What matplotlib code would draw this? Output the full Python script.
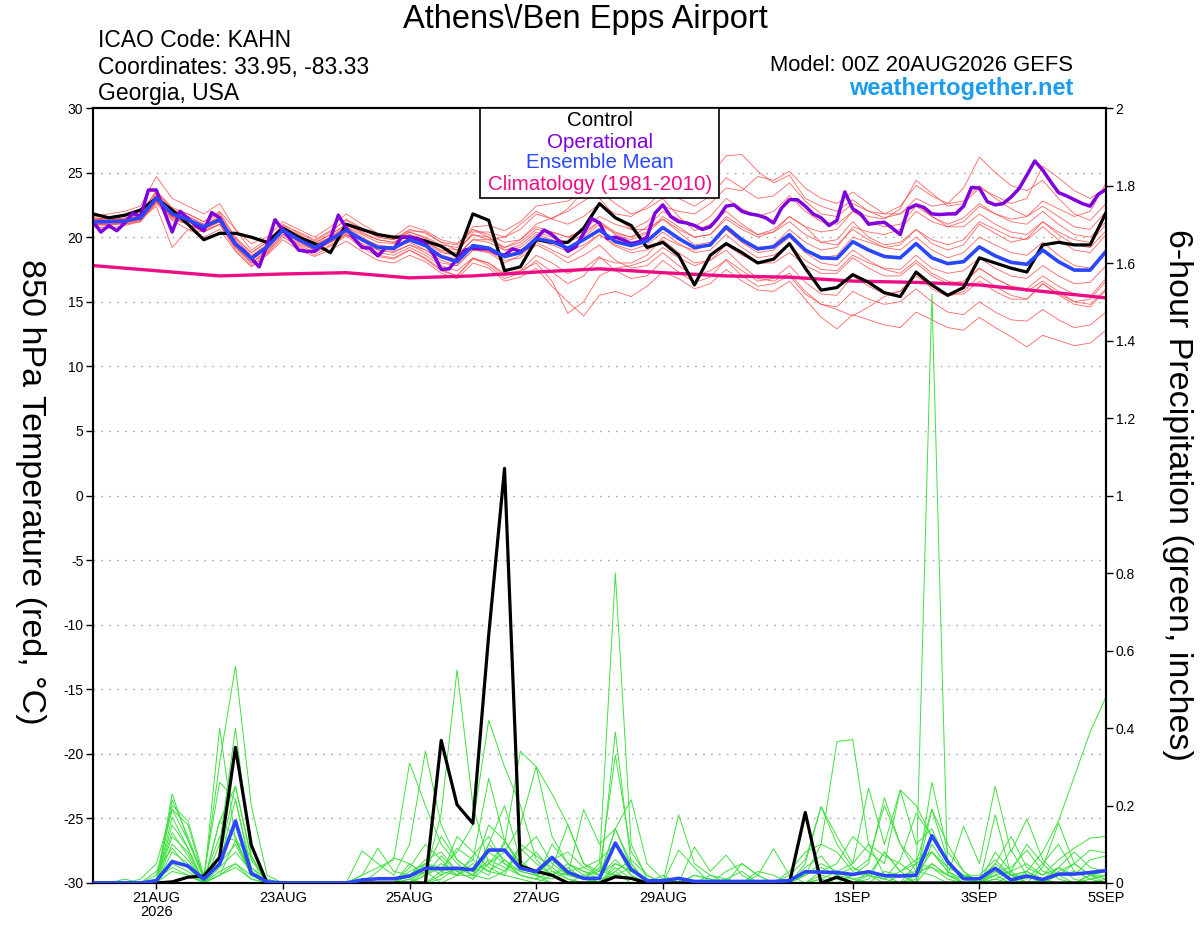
import numpy as np
import pandas as pd
import matplotlib
matplotlib.use("Agg")
import matplotlib.pyplot as plt
from matplotlib.patches import Rectangle

plt.rcParams['font.family'] = ['Liberation Sans', 'DejaVu Sans']

# ---------------- time axes ----------------
times6 = pd.date_range("2026-08-20 00:00", periods=65, freq="6h")
times3 = pd.date_range("2026-08-20 00:00", periods=129, freq="3h")
times24 = pd.date_range("2026-08-20 00:00", periods=17, freq="24h")

tick_dates = pd.to_datetime(["2026-08-21", "2026-08-23", "2026-08-25", "2026-08-27",
                             "2026-08-29", "2026-09-01", "2026-09-03", "2026-09-05"])
tick_labels = ["21AUG\n2026", "23AUG", "25AUG", "27AUG", "29AUG", "1SEP", "3SEP", "5SEP"]
temp_ticks = [-30, -25, -20, -15, -10, -5, 0, 5, 10, 15, 20, 25, 30]
precip_ticks = [0, 0.2, 0.4, 0.6, 0.8, 1.0, 1.2, 1.4, 1.6, 1.8, 2.0]
precip_labels = ["0", "0.2", "0.4", "0.6", "0.8", "1", "1.2", "1.4", "1.6", "1.8", "2"]

# ---------------- 850 hPa temperature (deg C) ----------------
control_t = [21.8, 21.5, 21.7, 22.1, 23.0, 22.1, 21.0, 19.8, 20.3, 20.3, 20.0, 19.6,
             20.7, 20.0, 19.5, 18.8, 21.0, 20.6, 20.2, 20.0, 20.0, 19.7, 19.3, 18.5,
             21.8, 21.3, 17.4, 17.7, 19.8, 19.6, 19.6, 20.7, 22.6, 21.5, 20.9, 19.2,
             19.6, 18.6, 16.3, 18.6, 19.5, 18.8, 18.0, 18.3, 19.5, 17.6, 15.9, 16.1,
             17.1, 16.5, 15.7, 15.4, 17.3, 16.3, 15.5, 16.1, 18.4, 18.0, 17.6, 17.3,
             19.4, 19.6, 19.4, 19.4, 21.9]

mean_t = [21.2, 21.2, 21.25, 21.5, 23.05, 21.8, 21.35, 20.8, 21.35, 19.5, 18.35, 19.25,
          20.55, 19.8, 19.2, 19.8, 20.55, 19.8, 19.2, 19.15, 19.8, 19.35, 18.5, 18.1,
          19.35, 19.15, 18.5, 18.8, 19.9, 19.65, 19.15, 19.8, 20.55, 19.65, 19.35, 19.7,
          20.75, 19.9, 19.2, 19.4, 20.8, 19.8, 19.1, 19.25, 20.2, 19.0, 18.4, 18.35,
          19.65, 19.0, 18.5, 18.4, 19.5, 18.4, 17.95, 18.1, 19.25, 18.55, 18.05, 17.9,
          19.0, 18.1, 17.45, 17.45, 18.9]

operational_t = [21.2, 20.4, 20.9, 20.5, 21.1, 21.85, 21.6, 23.65, 23.65, 22.0,
                 20.4, 22.0, 21.45, 20.9, 20.5, 21.9, 21.5, 20.4, 19.45, 19.0,
                 18.35, 17.7, 19.4, 21.35, 20.55, 19.8, 19.0, 18.9, 18.9, 19.4,
                 19.9, 21.7, 20.7, 19.9, 19.2, 19.15, 18.55, 19.2, 19.1, 20.0,
                 20.0, 19.9, 19.5, 18.7, 17.5, 17.55, 18.3, 19.0, 19.15, 19.1,
                 19.1, 18.75, 18.6, 19.1, 18.9, 19.25, 19.9, 20.55, 20.2, 19.65,
                 18.9, 19.25, 20.3, 21.45, 21.1, 19.9, 20.0, 19.8, 19.5, 19.65,
                 20.0, 21.85, 22.5, 21.6, 21.2, 21.1, 20.9, 20.6, 20.8, 21.5,
                 22.4, 22.5, 22.0, 21.8, 21.7, 21.5, 21.1, 22.25, 22.9, 22.9,
                 22.4, 21.8, 21.5, 20.9, 21.3, 23.5, 22.2, 21.8, 21.0, 21.1,
                 21.15, 20.7, 20.2, 22.2, 22.5, 22.3, 21.8, 21.75, 21.8, 21.8,
                 22.4, 23.85, 23.8, 22.75, 22.5, 22.6, 23.1, 23.75, 24.8, 25.9,
                 25.2, 24.3, 23.45, 23.2, 22.9, 22.6, 22.4, 23.3, 23.7]

climatology_t = [17.8, 17.4, 17.0, 17.15, 17.25, 16.85, 17.0, 17.3, 17.55,
                 17.25, 17.0, 16.9, 16.6, 16.5, 16.3, 15.8, 15.3]

member_a_t = [21.5, 21.4, 21.6, 21.9, 23.5, 22.2, 21.6, 21.0, 21.8, 19.9, 18.8, 19.6,
              20.9, 20.4, 19.8, 20.5, 21.3, 20.6, 20.0, 19.8, 20.6, 20.3, 19.6, 19.4,
              20.8, 20.9, 20.5, 21.2, 22.4, 22.6, 22.8, 23.5, 24.3, 23.6, 23.0, 23.8,
              25.0, 24.6, 24.0, 24.8, 26.3, 26.4, 25.1, 24.2, 24.8, 23.0, 22.4, 22.0,
              22.9, 22.0, 21.5, 21.8, 23.0, 22.4, 22.6, 23.8, 26.2, 25.0, 24.0, 23.6,
              24.4, 23.0, 21.8, 21.3, 22.6]
member_b_t = [20.8, 20.7, 20.9, 21.2, 22.6, 21.3, 20.6, 20.0, 20.6, 18.9, 17.7, 18.6,
              19.8, 19.0, 18.5, 19.0, 19.7, 18.9, 18.2, 18.0, 18.6, 18.1, 17.2, 16.8,
              18.0, 17.6, 16.6, 16.9, 17.6, 16.2, 15.0, 13.9, 15.5, 15.8, 15.4, 16.2,
              17.3, 16.8, 16.0, 16.4, 17.5, 16.6, 15.9, 15.8, 16.6, 15.2, 13.8, 12.9,
              14.0, 13.6, 13.2, 13.0, 14.2, 13.6, 13.0, 12.8, 13.8, 13.0, 12.3, 11.5,
              12.4, 12.0, 11.6, 11.8, 12.8]
member_c_t = [21.3, 21.5, 21.4, 21.7, 23.2, 22.0, 21.8, 21.2, 22.0, 20.6, 19.0, 19.8,
              20.8, 20.2, 19.4, 20.0, 20.9, 20.5, 20.2, 19.9, 20.5, 20.4, 19.6, 19.0,
              20.2, 20.0, 19.2, 19.8, 21.0, 21.5, 22.0, 22.8, 23.6, 22.6, 21.8, 22.2,
              23.0, 21.6, 20.5, 21.0, 22.0, 21.0, 20.2, 20.6, 21.6, 20.8, 19.6, 19.8,
              21.2, 20.0, 19.4, 19.6, 20.6, 19.5, 19.0, 19.4, 21.0, 20.3, 19.6, 19.9,
              21.2, 20.2, 19.4, 19.2, 20.5]
member_d_t = [21.0, 20.9, 21.1, 21.3, 22.8, 21.5, 21.0, 20.4, 21.0, 19.0, 17.8, 18.7,
              20.0, 19.3, 18.6, 19.3, 20.1, 19.2, 18.5, 18.3, 19.0, 18.4, 17.5, 17.0,
              18.3, 18.0, 17.0, 17.4, 18.6, 18.0, 17.2, 17.6, 18.5, 17.4, 16.8, 17.0,
              18.2, 17.3, 16.5, 16.9, 18.3, 17.4, 16.6, 16.8, 17.8, 16.5, 15.6, 15.5,
              17.0, 16.2, 15.6, 15.8, 17.2, 16.0, 15.4, 15.8, 17.0, 16.2, 15.5, 15.2,
              16.4, 15.5, 14.8, 14.6, 15.9]
member_e_t = [21.6, 21.8, 22.0, 22.4, 24.7, 23.0, 22.4, 21.8, 22.6, 20.6, 19.5, 20.0,
              21.2, 20.6, 20.0, 20.8, 21.8, 21.0, 20.3, 20.0, 20.9, 20.5, 19.8, 19.5,
              20.6, 20.0, 19.0, 19.2, 20.2, 19.8, 19.2, 20.0, 21.0, 20.3, 20.0, 20.8,
              22.0, 21.4, 20.8, 21.6, 23.0, 22.2, 21.6, 22.0, 23.2, 22.0, 21.2, 21.0,
              22.0, 21.2, 20.8, 21.0, 22.4, 21.6, 21.0, 21.5, 22.6, 21.8, 21.2, 21.0,
              22.0, 21.0, 20.2, 20.0, 21.2]
member_f_t = [21.1, 21.0, 21.2, 21.4, 23.0, 21.6, 21.0, 20.5, 21.0, 19.2, 18.0, 19.0,
              20.4, 19.7, 19.0, 19.6, 20.4, 19.9, 19.4, 19.2, 19.6, 19.0, 18.2, 17.8,
              19.0, 18.8, 18.0, 18.6, 19.6, 19.0, 18.4, 19.2, 20.2, 19.4, 19.0, 19.4,
              20.4, 19.5, 18.8, 19.0, 20.2, 19.2, 18.4, 18.6, 19.4, 18.2, 17.5, 17.4,
              18.6, 18.0, 17.6, 17.5, 18.6, 17.6, 17.2, 17.4, 18.4, 17.6, 17.0, 16.8,
              17.8, 17.0, 16.4, 16.5, 17.8]
member_g_t = [21.4, 21.3, 21.3, 21.6, 23.2, 21.9, 21.4, 20.9, 21.6, 19.8, 18.6, 19.4,
              20.6, 19.9, 19.3, 19.9, 20.8, 20.2, 19.6, 19.5, 20.2, 19.8, 18.9, 18.6,
              19.8, 19.6, 19.0, 19.4, 20.4, 20.0, 19.6, 20.2, 21.2, 20.2, 19.8, 20.3,
              21.4, 20.6, 20.0, 20.2, 21.4, 20.6, 20.0, 20.4, 21.6, 20.8, 20.4, 20.6,
              22.0, 21.6, 21.4, 22.2, 24.4, 23.4, 22.4, 22.6, 23.8, 23.2, 22.6, 23.0,
              25.5, 24.6, 23.6, 23.0, 23.8]
member_h_t = [20.9, 21.0, 21.0, 21.2, 22.8, 21.6, 21.2, 20.7, 21.2, 19.4, 18.2, 19.1,
              20.4, 19.6, 19.0, 19.6, 20.3, 19.4, 18.6, 18.4, 19.0, 18.3, 17.4, 17.0,
              18.4, 17.8, 16.8, 17.2, 18.2, 17.3, 16.4, 17.0, 18.4, 18.0, 18.0, 18.6,
              20.0, 19.4, 19.0, 19.4, 20.8, 19.9, 19.2, 19.3, 20.0, 18.8, 18.0, 17.8,
              19.0, 18.2, 17.5, 17.2, 18.2, 17.2, 16.6, 16.4, 17.6, 16.8, 16.2, 15.8,
              16.6, 15.8, 15.0, 14.8, 16.0]
member_i_t = [21.2, 21.1, 21.4, 21.6, 23.4, 22.1, 21.6, 21.0, 21.4, 19.6, 18.5, 19.3,
              20.8, 20.0, 19.5, 20.2, 21.0, 20.3, 19.8, 19.6, 20.2, 19.6, 19.0, 18.8,
              20.4, 20.4, 20.0, 20.6, 21.8, 21.4, 21.0, 21.6, 22.6, 21.8, 21.6, 22.4,
              23.6, 23.0, 22.4, 23.2, 24.6, 23.8, 23.0, 23.2, 24.2, 22.8, 21.8, 21.6,
              22.6, 22.0, 21.8, 22.4, 24.0, 23.2, 22.6, 22.8, 24.0, 23.0, 22.2, 21.6,
              22.4, 21.6, 20.8, 20.6, 22.0]
member_j_t = [21.0, 21.1, 21.2, 21.4, 22.9, 21.6, 21.3, 20.8, 21.4, 19.3, 18.0, 18.9,
              20.2, 19.5, 19.0, 19.6, 20.2, 19.5, 19.0, 18.9, 19.4, 19.0, 18.4, 18.0,
              19.2, 18.9, 18.2, 18.4, 19.4, 18.8, 18.0, 18.6, 19.4, 18.2, 17.6, 17.8,
              18.8, 17.8, 17.0, 17.4, 18.2, 17.0, 16.2, 16.4, 17.0, 15.6, 14.8, 14.6,
              15.8, 15.2, 14.8, 15.0, 16.0, 15.0, 14.2, 14.0, 15.0, 14.2, 13.6, 13.5,
              14.4, 13.6, 13.0, 13.2, 14.2]
member_k_t = [21.3, 21.2, 21.0, 21.3, 22.7, 21.6, 21.2, 20.6, 21.2, 19.4, 18.2, 19.2,
              20.6, 19.9, 19.4, 20.0, 20.8, 20.0, 19.3, 19.2, 20.0, 19.6, 18.8, 18.6,
              19.8, 19.8, 20.0, 21.0, 22.0, 21.4, 22.2, 23.6, 23.0, 21.6, 20.6, 20.6,
              21.4, 20.4, 19.4, 19.6, 20.6, 19.6, 18.8, 19.0, 20.0, 19.0, 18.4, 18.6,
              20.0, 19.6, 19.2, 19.0, 20.0, 19.0, 18.4, 18.8, 20.0, 19.4, 18.8, 18.6,
              19.6, 18.6, 17.8, 17.6, 19.0]
member_l_t = [21.0, 21.0, 21.1, 21.4, 22.4, 19.2, 20.6, 20.4, 21.0, 19.2, 18.0, 18.8,
              20.2, 19.4, 18.8, 19.4, 20.2, 19.4, 18.8, 18.6, 19.2, 18.6, 17.8, 17.4,
              18.4, 18.0, 17.2, 17.4, 18.0, 16.6, 14.1, 15.0, 17.0, 17.6, 17.8, 18.2,
              19.2, 18.4, 17.8, 18.2, 19.4, 18.6, 18.0, 18.0, 18.8, 17.8, 17.2, 17.2,
              18.4, 17.6, 17.0, 17.0, 18.0, 17.0, 16.4, 16.6, 17.6, 16.8, 16.2, 16.0,
              17.0, 16.2, 15.6, 15.4, 16.8]
member_m_t = [21.2, 21.3, 21.4, 21.8, 23.6, 22.3, 21.8, 21.2, 21.9, 20.0, 18.8, 19.6,
              21.0, 20.3, 19.7, 20.4, 21.4, 20.7, 20.0, 19.8, 20.4, 19.9, 19.2, 19.0,
              20.2, 19.8, 19.2, 19.6, 20.6, 20.4, 20.0, 20.6, 21.6, 21.0, 20.6, 21.2,
              22.4, 22.0, 21.8, 22.6, 23.8, 23.6, 24.7, 24.4, 25.1, 23.8, 23.0, 22.6,
              23.5, 22.6, 21.8, 21.8, 22.6, 21.6, 20.8, 20.8, 21.8, 21.0, 20.4, 20.2,
              21.2, 20.4, 19.8, 19.6, 21.0]
member_n_t = [21.1, 21.2, 21.3, 21.5, 23.0, 21.7, 21.3, 20.9, 21.5, 19.6, 18.5, 19.4,
              20.6, 19.8, 19.1, 19.8, 20.6, 19.7, 19.0, 18.8, 19.4, 18.8, 18.0, 17.8,
              19.0, 18.9, 18.4, 18.8, 19.8, 19.6, 19.2, 19.8, 20.6, 19.8, 19.4, 19.8,
              20.8, 19.9, 19.2, 19.4, 20.6, 19.6, 19.0, 19.4, 20.6, 19.6, 19.0, 19.2,
              20.8, 20.4, 20.2, 20.6, 22.0, 21.2, 20.8, 21.2, 22.4, 21.8, 21.4, 21.6,
              22.8, 22.2, 21.6, 22.0, 24.2]
member_o_t = [21.4, 21.3, 21.5, 21.8, 23.3, 22.0, 21.4, 20.8, 21.4, 19.6, 18.4, 19.2,
              20.5, 19.9, 19.3, 19.9, 20.6, 19.9, 19.3, 19.2, 19.8, 19.3, 18.6, 18.3,
              19.4, 19.2, 18.6, 18.9, 19.8, 19.4, 18.9, 19.4, 20.2, 19.3, 18.8, 19.0,
              19.8, 18.8, 18.0, 18.2, 19.0, 17.8, 16.8, 16.6, 17.2, 15.8, 14.8, 14.4,
              13.9, 14.6, 15.4, 15.8, 17.0, 16.2, 15.6, 15.6, 16.6, 15.8, 15.2, 15.2,
              16.4, 15.6, 15.0, 15.2, 16.6]
member_p_t = [21.5, 21.4, 21.3, 21.5, 22.8, 21.4, 21.0, 20.6, 21.2, 19.4, 18.4, 19.3,
              20.7, 20.1, 19.6, 20.2, 21.0, 20.4, 19.8, 19.6, 20.4, 20.0, 19.4, 19.2,
              20.6, 20.2, 19.6, 19.8, 20.8, 20.4, 20.0, 20.4, 21.2, 20.4, 20.0, 20.4,
              21.6, 20.8, 20.0, 20.2, 21.6, 20.8, 20.2, 20.4, 21.2, 20.2, 19.6, 19.4,
              20.6, 19.8, 19.2, 19.4, 20.6, 19.8, 19.4, 19.8, 21.2, 20.6, 20.0, 19.8,
              20.8, 19.8, 19.0, 18.8, 20.2]

members_t = [member_a_t, member_b_t, member_c_t, member_d_t, member_e_t, member_f_t,
             member_g_t, member_h_t, member_i_t, member_j_t, member_k_t, member_l_t,
             member_m_t, member_n_t, member_o_t, member_p_t]

# ---------------- 6-hour precipitation (inches) ----------------
control_p = [0, 0, 0, 0, 0, 0.003, 0.015, 0.018, 0.066, 0.35, 0.098, 0,
             0, 0, 0, 0, 0, 0, 0, 0,
             0, 0, 0.368, 0.202, 0.154, 0.64, 1.07, 0.044, 0.03, 0.02, 0, 0,
             0, 0.016, 0.012, 0,
             0, 0, 0, 0, 0, 0, 0, 0, 0, 0.182, 0, 0.015,
             0, 0, 0, 0, 0, 0, 0, 0,
             0, 0, 0, 0, 0, 0, 0, 0, 0]

mean_p = [0, 0, 0, 0, 0.006, 0.055, 0.044, 0.01, 0.049, 0.16, 0.025, 0.003,
          0, 0, 0, 0, 0, 0.008, 0.011, 0.011,
          0.018, 0.038, 0.037, 0.038, 0.034, 0.085, 0.085, 0.038, 0.029, 0.066, 0.028, 0.012,
          0.012, 0.103, 0.035, 0.006,
          0.006, 0.012, 0.004, 0.004, 0.004, 0.004, 0.004, 0.004, 0.006, 0.029, 0.028, 0.027,
          0.022, 0.029, 0.019, 0.018, 0.02, 0.122, 0.055, 0.011,
          0.011, 0.038, 0.008, 0.018, 0.009, 0.023, 0.023, 0.027, 0.032]

member_01_p = [0, 0, 0, 0, 0, 0.12, 0.08, 0, 0.16, 0.25, 0.06, 0,
               0, 0, 0, 0, 0, 0, 0, 0,
               0, 0.02, 0.05, 0.03, 0.01, 0.08, 0.05, 0.02, 0.01, 0, 0, 0,
               0, 0.04, 0.01, 0,
               0, 0, 0, 0, 0, 0, 0, 0, 0, 0.02, 0.05, 0.03,
               0.01, 0, 0, 0, 0, 1.52, 0.02, 0,
               0, 0.03, 0.01, 0, 0, 0.02, 0, 0, 0.01]
member_02_p = [0, 0, 0.01, 0, 0.02, 0.19, 0.15, 0.01, 0.31, 0.56, 0.2, 0.02,
               0, 0, 0, 0, 0, 0, 0, 0,
               0, 0, 0.01, 0.04, 0.02, 0.1, 0.06, 0.03, 0.02, 0.04, 0.01, 0,
               0.01, 0.14, 0.05, 0,
               0, 0, 0, 0, 0, 0, 0, 0, 0, 0, 0.01, 0,
               0, 0.02, 0, 0, 0.01, 0.19, 0.06, 0.01,
               0, 0, 0.02, 0.03, 0, 0, 0, 0.02, 0.03]
member_03_p = [0, 0, 0, 0, 0, 0.05, 0.03, 0, 0.1, 0.4, 0.07, 0,
               0, 0, 0, 0, 0, 0, 0, 0,
               0.04, 0.1, 0.06, 0.02, 0.04, 0.02, 0.11, 0.05, 0.03, 0.06, 0.02, 0.01,
               0.05, 0.8, 0.1, 0.01,
               0, 0.01, 0, 0, 0, 0, 0, 0, 0, 0, 0, 0,
               0, 0, 0.03, 0.02, 0, 0.05, 0.02, 0,
               0, 0.02, 0, 0, 0.01, 0, 0, 0.01, 0]
member_04_p = [0, 0, 0, 0, 0, 0.23, 0.11, 0.01, 0.05, 0.1, 0.02, 0,
               0, 0, 0, 0, 0, 0, 0, 0,
               0.05, 0.02, 0.18, 0.55, 0.2, 0.05, 0.1, 0.34, 0.3, 0.23, 0.15, 0.05,
               0.02, 0.06, 0.02, 0,
               0.02, 0, 0, 0, 0, 0, 0, 0, 0, 0.04, 0.07, 0.02,
               0, 0.01, 0.08, 0.03, 0, 0.1, 0.04, 0.02,
               0, 0.05, 0.02, 0.02, 0, 0.04, 0.01, 0, 0]
member_05_p = [0, 0, 0, 0, 0.01, 0.13, 0.07, 0, 0.4, 0.11, 0.02, 0,
               0, 0, 0, 0, 0, 0, 0, 0,
               0.01, 0.03, 0, 0.02, 0.05, 0.03, 0.02, 0.01, 0, 0.02, 0.05, 0.03,
               0.01, 0.02, 0.04, 0.01,
               0, 0, 0.02, 0.01, 0, 0, 0, 0, 0.03, 0.08, 0.1, 0.365,
               0.37, 0.1, 0.02, 0, 0.05, 0.08, 0.03, 0,
               0, 0.01, 0, 0, 0, 0, 0, 0.02, 0.02]
member_06_p = [0, 0, 0, 0, 0, 0.17, 0.09, 0, 0.05, 0.215, 0.03, 0,
               0, 0, 0, 0, 0, 0, 0, 0,
               0, 0.05, 0.04, 0.08, 0.15, 0.42, 0.3, 0.2, 0.06, 0.02, 0.04, 0.01,
               0, 0.05, 0.03, 0.01,
               0, 0, 0, 0, 0, 0, 0, 0, 0, 0, 0, 0,
               0, 0, 0, 0.02, 0.03, 0.04, 0.01, 0,
               0, 0, 0, 0.03, 0.08, 0.16, 0.275, 0.39, 0.48]
member_07_p = [0, 0, 0, 0, 0, 0.2, 0.16, 0.02, 0.26, 0.215, 0.04, 0,
               0, 0, 0, 0, 0, 0.02, 0.04, 0.06,
               0.31, 0.2, 0.1, 0.05, 0.02, 0.01, 0.03, 0.08, 0.12, 0.05, 0.02, 0.19,
               0.1, 0.14, 0.215, 0.05,
               0.01, 0, 0, 0, 0.01, 0.03, 0, 0, 0, 0.05, 0.197, 0.12,
               0.05, 0.245, 0.1, 0.24, 0.2, 0.12, 0.05, 0.02,
               0, 0.08, 0.03, 0, 0, 0.03, 0.05, 0.02, 0]
member_08_p = [0, 0, 0, 0, 0, 0.1, 0.06, 0, 0.02, 0.11, 0.07, 0,
               0, 0, 0, 0, 0, 0.083, 0.05, 0.02,
               0.1, 0.34, 0.15, 0.06, 0.03, 0.05, 0.08, 0.15, 0.3, 0.12, 0.05, 0.02,
               0, 0.03, 0, 0,
               0, 0.176, 0.05, 0.02, 0, 0, 0, 0, 0, 0, 0, 0,
               0, 0, 0, 0, 0, 0.26, 0.08, 0.03,
               0, 0.02, 0.085, 0.02, 0, 0, 0, 0, 0]
member_09_p = [0, 0, 0, 0, 0.03, 0.09, 0.04, 0, 0.07, 0.25, 0.068, 0,
               0, 0, 0, 0, 0, 0.02, 0.09, 0.03,
               0.02, 0.06, 0.08, 0.03, 0.06, 0.27, 0.11, 0.05, 0.02, 0, 0, 0,
               0, 0.39, 0.05, 0,
               0, 0, 0.02, 0.01, 0, 0, 0.02, 0.088, 0.02, 0, 0.02, 0.01,
               0, 0.03, 0.01, 0, 0.02, 0.05, 0.02, 0.146,
               0.05, 0.25, 0.08, 0.165, 0.06, 0.02, 0.03, 0.01, 0.02]
member_10_p = [0, 0, 0, 0, 0, 0.215, 0.12, 0.01, 0.12, 0.11, 0.03, 0,
               0, 0, 0, 0, 0, 0, 0, 0,
               0.03, 0.05, 0.02, 0.12, 0.08, 0.04, 0.02, 0.1, 0.07, 0.04, 0.15, 0.05,
               0.03, 0.33, 0.08, 0.02,
               0, 0, 0.093, 0.03, 0.072, 0.02, 0, 0, 0.02, 0.06, 0.197, 0.1,
               0.04, 0.02, 0.08, 0.03, 0.05, 0.19, 0.1, 0.03,
               0, 0.176, 0.02, 0, 0.04, 0.155, 0.05, 0.02, 0.03]
member_11_p = [0, 0, 0, 0, 0, 0.15, 0.09, 0, 0.16, 0.12, 0.02, 0,
               0, 0, 0, 0, 0, 0, 0, 0,
               0, 0, 0.03, 0.09, 0.06, 0.03, 0.06, 0.02, 0.01, 0.1, 0.05, 0.03,
               0.02, 0.14, 0.04, 0,
               0, 0.085, 0.04, 0, 0, 0, 0, 0, 0, 0, 0.03, 0.05,
               0.12, 0.08, 0.05, 0.24, 0.1, 0.14, 0.05, 0.02,
               0.01, 0.05, 0.12, 0.04, 0.02, 0.06, 0.09, 0.116, 0.12]
member_12_p = [0, 0, 0, 0, 0, 0.03, 0.02, 0, 0.02, 0.05, 0.01, 0,
               0, 0, 0, 0, 0, 0, 0, 0,
               0, 0.02, 0.04, 0.02, 0.02, 0.1, 0.2, 0.06, 0.02, 0.01, 0.03, 0.04,
               0.06, 0.1, 0.02, 0,
               0, 0, 0, 0, 0, 0.05, 0.02, 0, 0, 0.02, 0.1, 0.08,
               0.03, 0.06, 0.2, 0.1, 0.05, 0.04, 0.02, 0.01,
               0, 0.03, 0.04, 0.085, 0.03, 0.02, 0.05, 0.085, 0.078]
member_13_p = [0, 0, 0, 0.01, 0.05, 0.19, 0.11, 0.02, 0.05, 0.15, 0.04, 0.01,
               0, 0, 0, 0, 0, 0, 0, 0,
               0, 0.03, 0.12, 0.06, 0.03, 0.15, 0.11, 0.04, 0.08, 0.03, 0.01, 0,
               0, 0.03, 0.06, 0.02,
               0, 0, 0, 0, 0, 0, 0, 0, 0.01, 0.02, 0.04, 0.02,
               0.01, 0.02, 0.01, 0.06, 0.18, 0.12, 0.05, 0.02,
               0.01, 0.02, 0.03, 0.05, 0.02, 0.04, 0.08, 0.04, 0.03]
member_14_p = [0, 0, 0, 0, 0, 0.06, 0.04, 0, 0.03, 0.05, 0.02, 0,
               0, 0, 0, 0, 0, 0, 0.03, 0.065,
               0.05, 0.02, 0.07, 0.03, 0.01, 0.05, 0.03, 0.09, 0.05, 0.02, 0, 0.02,
               0.03, 0.02, 0.01, 0,
               0, 0, 0, 0, 0.03, 0.05, 0.02, 0, 0, 0, 0, 0,
               0.02, 0.05, 0.22, 0.1, 0.03, 0.02, 0, 0,
               0, 0.01, 0.03, 0.1, 0.05, 0.01, 0, 0.02, 0.01]
member_15_p = [0, 0, 0, 0, 0, 0.08, 0.05, 0, 0.04, 0.08, 0.03, 0,
               0, 0, 0, 0, 0, 0, 0, 0,
               0.02, 0.05, 0.03, 0.02, 0.07, 0.12, 0.05, 0.03, 0.02, 0.06, 0.08, 0.04,
               0.02, 0.05, 0.03, 0.01,
               0, 0, 0, 0.02, 0.01, 0, 0, 0, 0, 0, 0.01, 0.03,
               0.05, 0.1, 0.07, 0.05, 0.02, 0.08, 0.03, 0.01,
               0, 0.04, 0.02, 0.01, 0.05, 0.1, 0.03, 0.01, 0.02]
member_16_p = [0, 0, 0, 0, 0.01, 0.04, 0.02, 0, 0.02, 0.04, 0.01, 0,
               0, 0, 0, 0, 0, 0, 0, 0,
               0.01, 0, 0.02, 0.04, 0.02, 0.06, 0.04, 0.02, 0.01, 0.03, 0.02, 0.01,
               0.04, 0.02, 0.01, 0,
               0, 0, 0, 0, 0, 0, 0.03, 0.02, 0, 0, 0, 0.02,
               0.04, 0.02, 0.01, 0.03, 0.06, 0.08, 0.04, 0.02,
               0.02, 0.06, 0.02, 0.03, 0.01, 0.04, 0.02, 0.06, 0.07]

members_p = [member_01_p, member_02_p, member_03_p, member_04_p, member_05_p,
             member_06_p, member_07_p, member_08_p, member_09_p, member_10_p,
             member_11_p, member_12_p, member_13_p, member_14_p, member_15_p,
             member_16_p]

# ---------------- colours ----------------
RED = '#FF4A4A'
GREEN = '#40E040'
PURPLE = '#7F00DC'
BLUE = '#2A46FF'
MAGENTA = '#EE0C84'
SITE_BLUE = '#1C9BF0'

# ---------------- figure ----------------
fig = plt.figure(figsize=(12, 9.27), dpi=100)
ax = fig.add_axes([93 / 1200, 1 - 883 / 927, (1106 - 93) / 1200, (883 - 108) / 927])
ax2 = ax.twinx()

# temperature
for m in members_t:
    ax.plot(times6[:len(m)], m, color=RED, lw=0.6, alpha=0.85, zorder=2)
ax.plot(times24[:len(climatology_t)], climatology_t, color=MAGENTA, lw=2.4, zorder=4)
ax.plot(times6[:len(control_t)], control_t, color='black', lw=2.3, zorder=5)
ax.plot(times3[:len(operational_t)], operational_t, color=PURPLE, lw=2.5, zorder=6)
ax.plot(times6[:len(mean_t)], mean_t, color=BLUE, lw=2.6, zorder=7)

for lev in temp_ticks[1:-1]:
    ax.axhline(lev, color='#A8A8A8', lw=1.0, linestyle=(0, (1.2, 4.5)), zorder=1)

ax.set_ylim(-30, 30)
ax.set_yticks(temp_ticks)
ax.set_yticklabels([str(t) for t in temp_ticks])
ax.set_xlim(times6[0], times6[-1])
ax.set_xticks(tick_dates)
ax.set_xticklabels(tick_labels)

# precipitation
for m in members_p:
    ax2.plot(times6[:len(m)], m, color=GREEN, lw=0.7, zorder=2)
ax2.plot(times6[:len(control_p)], control_p, color='black', lw=2.3, zorder=5)
ax2.plot(times6[:len(mean_p)], mean_p, color=BLUE, lw=2.6, zorder=6)
ax2.set_ylim(0, 2)
ax2.set_yticks(precip_ticks)
ax2.set_yticklabels(precip_labels)
ax2.set_xlim(times6[0], times6[-1])

for a in (ax, ax2):
    for s in a.spines.values():
        s.set_linewidth(1.5)
ax.tick_params(axis='y', direction='out', length=5, width=1, labelsize=10, pad=2)
ax.tick_params(axis='x', direction='out', length=4, width=1, labelsize=10.5, pad=2)
ax2.tick_params(axis='y', direction='out', length=5, width=1, labelsize=10, pad=2)
for lbl in ax.get_xticklabels():
    lbl.set_linespacing(0.95)

# texts
fig.text(0.4875, 0.9698, 'Athens\\/Ben Epps Airport', ha='center', va='baseline', fontsize=23.5)
fig.text(98 / 1200, 0.9493, 'ICAO Code: KAHN', ha='left', va='baseline', fontsize=16.5)
fig.text(98 / 1200, 0.9202, 'Coordinates: 33.95, -83.33', ha='left', va='baseline', fontsize=16.5)
fig.text(98 / 1200, 0.8921, 'Georgia, USA', ha='left', va='baseline', fontsize=16.5)
fig.text(1073 / 1200, 0.9237, 'Model: 00Z 20AUG2026 GEFS', ha='right', va='baseline', fontsize=15.8)
fig.text(1073 / 1200, 0.8975, 'weathertogether.net', ha='right', va='baseline', fontsize=17,
         fontweight='bold', color=SITE_BLUE)

fig.text(0.025, 0.469, '850 hPa Temperature (red, °C)', rotation=270, ha='center', va='center',
         fontsize=24.5)
fig.text(0.981, 0.466, '6-hour Precipitation (green, inches)', rotation=270, ha='center',
         va='center', fontsize=24.5)

# legend box
fig.patches.append(Rectangle((480 / 1200, 1 - 198 / 927), 239 / 1200, 90 / 927,
                             transform=fig.transFigure, facecolor='white', edgecolor='black',
                             lw=1.2, zorder=10))
legend_items = [('Control', 'black', 121), ('Operational', PURPLE, 142),
                ('Ensemble Mean', BLUE, 163), ('Climatology (1981-2010)', MAGENTA, 185)]
for txt, col, ypix in legend_items:
    fig.text(600 / 1200, 1 - ypix / 927, txt, ha='center', va='center', color=col,
             fontsize=14.8, zorder=11)

fig.savefig('out.png', dpi=100)
